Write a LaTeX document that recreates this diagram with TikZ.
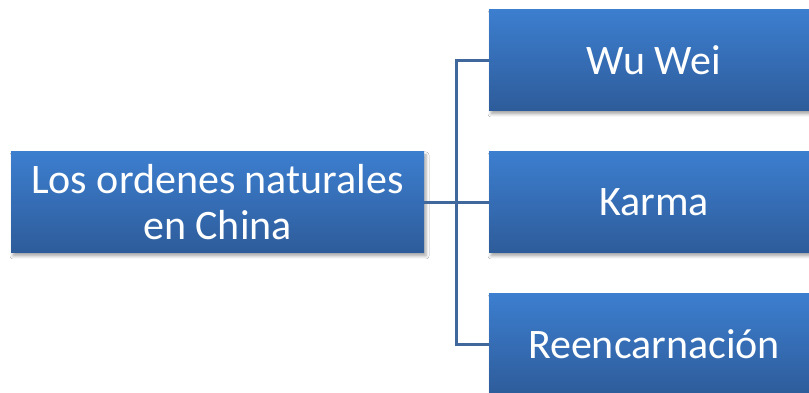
\documentclass[tikz,border=0pt]{standalone}
\usepackage{fontspec}
\setmainfont{Carlito}
\usetikzlibrary{calc,shadows.blur}
\definecolor{boxtop}{HTML}{3C7ECF}
\definecolor{boxbot}{HTML}{2E5C9A}
\definecolor{linkc}{HTML}{41689D}
\tikzset{
  blbox/.style={rectangle, top color=boxtop, bottom color=boxbot, draw=none,
    text=white, font=\fontsize{42}{46}\selectfont, align=center,
    minimum height=101pt, inner sep=0pt,
    blur shadow={shadow xshift=2pt, shadow yshift=-3pt, shadow blur radius=3pt, shadow opacity=35}},
  link/.style={draw=linkc, line width=2.2pt}
}
\begin{document}
\begin{tikzpicture}[x=1pt,y=1pt]
\useasboundingbox (0,0) rectangle (809,393);
\fill[white] (0,0) rectangle (809,393);
\node[blbox, minimum width=413pt] (L) at (217.5,190.5) {Los ordenes naturales\\en China};
\node[blbox, minimum width=330pt] (R1) at (654,332.5) {Wu Wei};
\node[blbox, minimum width=330pt] (R2) at (654,190.5) {Karma};
\node[blbox, minimum width=330pt] (R3) at (654,48.5) {Reencarnación};
\coordinate (M) at ($(L.east)!0.5!(R2.west)$);
\draw[link] (L.east) -- (R2.west);
\draw[link] (R1.west) -| (M) |- (R3.west);
\end{tikzpicture}
\end{document}
